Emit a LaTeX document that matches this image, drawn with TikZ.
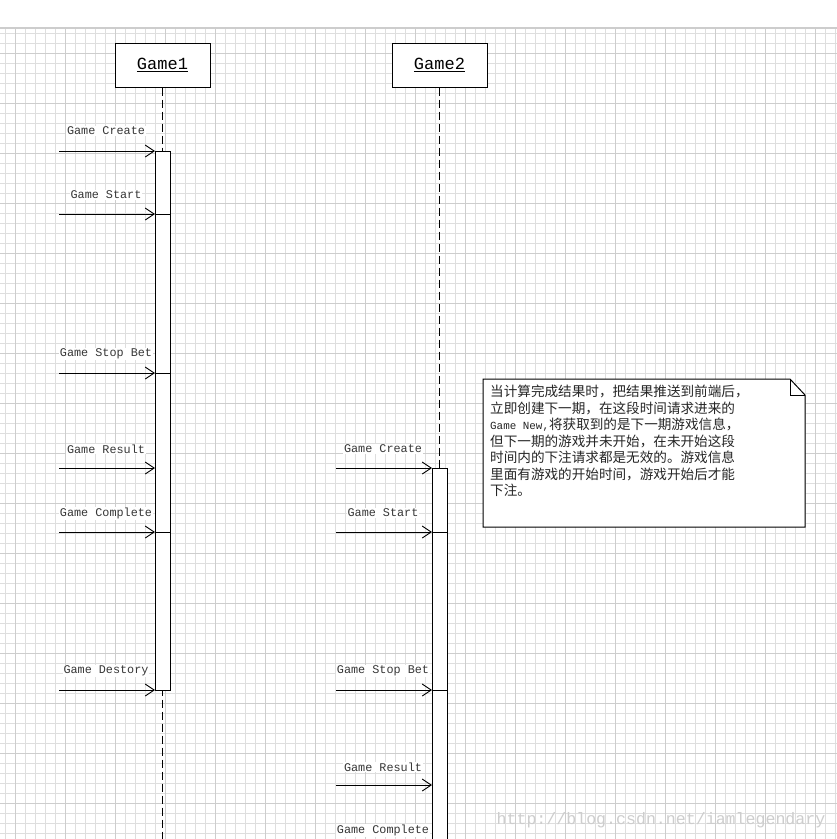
\documentclass[tikz,border=0pt]{standalone}
\usepackage{fontspec}
\setmainfont{Liberation Serif}
\newfontfamily\monof{Liberation Mono}
\newfontfamily\cjk{Noto Sans CJK SC}
\usetikzlibrary{arrows.meta}
\definecolor{gridminor}{RGB}{222,222,222}
\definecolor{gridmajor}{RGB}{205,205,205}
\definecolor{labelc}{RGB}{55,55,55}
\definecolor{wmark}{RGB}{205,205,205}
\tikzset{
  objbox/.style={draw=black, line width=1pt, fill=white, minimum width=95pt, minimum height=44pt, inner sep=0pt, font=\monof\fontsize{17}{17}\selectfont},
  lifeline/.style={draw=black, line width=1pt, dash pattern=on 8pt off 4pt},
  actbar/.style={draw=black, line width=1pt, fill=white, minimum width=15pt, inner sep=0pt},
  msg/.style={draw=black, line width=1pt, -{Straight Barb[length=9pt, width=12pt, line width=0.9pt]}},
  segline/.style={draw=black, line width=1pt},
  msglabel/.style={fill=white, inner sep=1pt, text=labelc, font=\monof\fontsize{11.8}{12}\selectfont},
  notebox/.style={draw=black, line width=1pt, fill=white},
}
\begin{document}
\begin{tikzpicture}[x=1pt, y=-1pt]
\clip (0,0) rectangle (837,839);
\fill[white] (0,0) rectangle (837,839);
% grid
\foreach \x in {5,15,...,835} \draw[gridminor, line width=0.8pt] (\x,28) -- (\x,839);
\foreach \y in {33,43,...,833} \draw[gridminor, line width=0.8pt] (0,\y) -- (837,\y);
\foreach \x in {15,65,...,815} \draw[gridmajor, line width=0.8pt] (\x,28) -- (\x,839);
\foreach \y in {53,103,...,803} \draw[gridmajor, line width=0.8pt] (0,\y) -- (837,\y);
\draw[gridmajor, line width=1.5pt] (0,28) -- (837,28);

% objects
\node[objbox] (g1) at (162.5,65) {\underline{Game1}};
\node[objbox] (g2) at (439.5,65) {\underline{Game2}};
\coordinate (g1end) at (162.5,845);
\coordinate (g2end) at (439.5,845);
\draw[lifeline] (g1.south) -- (g1end);
\draw[lifeline] (g2.south) -- (g2end);

% activation bars
\node[actbar, minimum height=539pt] (b1) at (162.5,420.5) {};
\node[actbar, minimum height=400pt] (b2) at (439.5,668) {};

% messages to Game1
\coordinate (a1s) at (59,151);  \coordinate (a1e) at (155,151);
\coordinate (a2s) at (59,214);  \coordinate (a2e) at (155,214); \coordinate (a2x) at (170,214);
\coordinate (a3s) at (59,373);  \coordinate (a3e) at (155,373); \coordinate (a3x) at (170,373);
\coordinate (a4s) at (59,468);  \coordinate (a4e) at (155,468);
\coordinate (a5s) at (59,532);  \coordinate (a5e) at (155,532); \coordinate (a5x) at (170,532);
\coordinate (a6s) at (59,690);  \coordinate (a6e) at (155,690);
\draw[msg] (a1s) -- (a1e);
\draw[msg] (a2s) -- (a2e); \draw[segline] (a2e) -- (a2x);
\draw[msg] (a3s) -- (a3e); \draw[segline] (a3e) -- (a3x);
\draw[msg] (a4s) -- (a4e);
\draw[msg] (a5s) -- (a5e); \draw[segline] (a5e) -- (a5x);
\draw[msg] (a6s) -- (a6e);
\node[msglabel] (l1) at (106,131) {Game Create};
\node[msglabel] (l2) at (106,195) {Game Start};
\node[msglabel] (l3) at (106,354) {Game Stop Bet};
\node[msglabel] (l4) at (106,449) {Game Result};
\node[msglabel] (l5) at (106,513) {Game Complete};
\node[msglabel] (l6) at (106,671) {Game Destory};

% messages to Game2
\coordinate (c1s) at (336,468);  \coordinate (c1e) at (432,468);
\coordinate (c2s) at (336,532);  \coordinate (c2e) at (432,532); \coordinate (c2x) at (447,532);
\coordinate (c3s) at (336,690);  \coordinate (c3e) at (432,690); \coordinate (c3x) at (447,690);
\coordinate (c4s) at (336,785);  \coordinate (c4e) at (432,785);
\coordinate (c5s) at (336,849);  \coordinate (c5e) at (432,849);
\draw[msg] (c1s) -- (c1e);
\draw[msg] (c2s) -- (c2e); \draw[segline] (c2e) -- (c2x);
\draw[msg] (c3s) -- (c3e); \draw[segline] (c3e) -- (c3x);
\draw[msg] (c4s) -- (c4e);
\draw[msg] (c5s) -- (c5e);
\node[msglabel] (m1) at (383,449) {Game Create};
\node[msglabel] (m2) at (383,513) {Game Start};
\node[msglabel] (m3) at (383,671) {Game Stop Bet};
\node[msglabel] (m4) at (383,767) {Game Result};
\node[msglabel] (m5) at (383,830) {Game Complete};

% note
\coordinate (n1) at (483,379);
\coordinate (n2) at (790,379);
\coordinate (n3) at (805,395);
\coordinate (n4) at (805,527);
\coordinate (n5) at (483,527);
\coordinate (n6) at (790,395);
\draw[notebox] (n1) -- (n2) -- (n3) -- (n4) -- (n5) -- cycle;
\draw[segline] (n2) -- (n6) -- (n3);
\node[anchor=north west, inner sep=0pt, align=left, text=black!85,
      font=\cjk\fontsize{13.6}{16.5}\selectfont] (notetext) at (490,385) {%
当计算完成结果时，把结果推送到前端后，\\
立即创建下一期，在这段时间请求进来的\\
{\monof\fontsize{10.9}{16.5}\selectfont Game New,}将获取到的是下一期游戏信息，\\
但下一期的游戏并未开始，在未开始这段\\
时间内的下注请求都是无效的。游戏信息\\
里面有游戏的开始时间，游戏开始后才能\\
下注。};

% watermark
\node[text=wmark, inner sep=0pt, font=\monof\fontsize{16.6}{17}\selectfont] (wm) at (661,820) {http://blog.csdn.net/iamlegendary};
\end{tikzpicture}
\end{document}
